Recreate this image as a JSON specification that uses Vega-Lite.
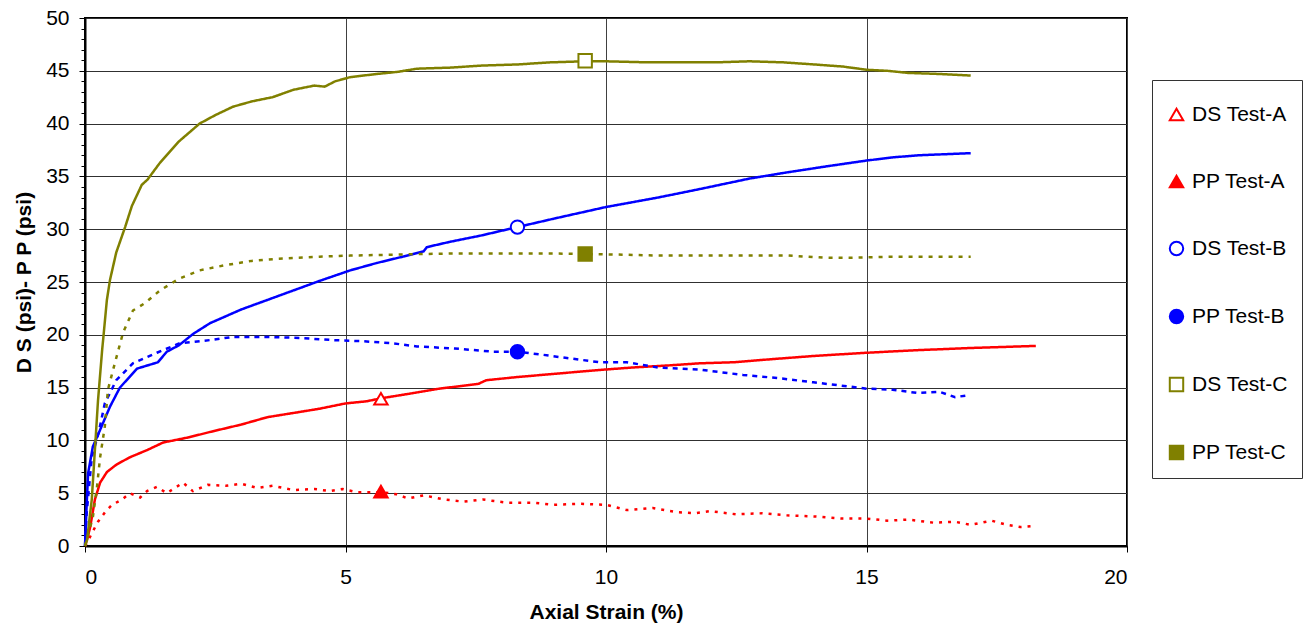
{
  "$schema": "https://vega.github.io/schema/vega-lite/v6.json",
  "width": 1042,
  "height": 528,
  "autosize": {"type": "none"},
  "padding": {"left": 85, "top": 18, "right": 178, "bottom": 81},
  "background": "white",
  "config": {
    "font": "Liberation Sans",
    "view": {"stroke": "black", "strokeWidth": 2}
  },
  "datasets": {
    "lines": [
      {"series":"DS Test-A","strain":0,"dev":0},{"series":"DS Test-A","strain":0.05,"dev":0.8},{"series":"DS Test-A","strain":0.1,"dev":1.8},{"series":"DS Test-A","strain":0.19,"dev":4.4},{"series":"DS Test-A","strain":0.29,"dev":6.0},{"series":"DS Test-A","strain":0.42,"dev":7.0},{"series":"DS Test-A","strain":0.6,"dev":7.7},{"series":"DS Test-A","strain":0.86,"dev":8.4},{"series":"DS Test-A","strain":1.2,"dev":9.1},{"series":"DS Test-A","strain":1.5,"dev":9.8},{"series":"DS Test-A","strain":2.0,"dev":10.3},{"series":"DS Test-A","strain":2.4,"dev":10.8},{"series":"DS Test-A","strain":3.0,"dev":11.5},{"series":"DS Test-A","strain":3.5,"dev":12.2},{"series":"DS Test-A","strain":4.13,"dev":12.7},{"series":"DS Test-A","strain":4.5,"dev":13.0},{"series":"DS Test-A","strain":5.0,"dev":13.5},{"series":"DS Test-A","strain":5.4,"dev":13.7},{"series":"DS Test-A","strain":5.7,"dev":14.0},{"series":"DS Test-A","strain":6.2,"dev":14.4},{"series":"DS Test-A","strain":6.8,"dev":14.9},{"series":"DS Test-A","strain":7.3,"dev":15.2},{"series":"DS Test-A","strain":7.55,"dev":15.35},{"series":"DS Test-A","strain":7.7,"dev":15.7},{"series":"DS Test-A","strain":8.3,"dev":16.0},{"series":"DS Test-A","strain":9.0,"dev":16.3},{"series":"DS Test-A","strain":9.88,"dev":16.67},{"series":"DS Test-A","strain":10.5,"dev":16.9},{"series":"DS Test-A","strain":11.2,"dev":17.1},{"series":"DS Test-A","strain":11.8,"dev":17.3},{"series":"DS Test-A","strain":12.45,"dev":17.4},{"series":"DS Test-A","strain":13.2,"dev":17.7},{"series":"DS Test-A","strain":14.0,"dev":18.0},{"series":"DS Test-A","strain":15.0,"dev":18.3},{"series":"DS Test-A","strain":16.0,"dev":18.55},{"series":"DS Test-A","strain":17.0,"dev":18.75},{"series":"DS Test-A","strain":17.95,"dev":18.9},{"series":"DS Test-A","strain":18.25,"dev":18.95},
      {"series":"PP Test-A","strain":0,"dev":0},{"series":"PP Test-A","strain":0.05,"dev":0.4},{"series":"PP Test-A","strain":0.13,"dev":1.2},{"series":"PP Test-A","strain":0.25,"dev":2.3},{"series":"PP Test-A","strain":0.4,"dev":3.3},{"series":"PP Test-A","strain":0.52,"dev":3.9},{"series":"PP Test-A","strain":0.71,"dev":4.4},{"series":"PP Test-A","strain":0.86,"dev":5.0},{"series":"PP Test-A","strain":1.06,"dev":4.6},{"series":"PP Test-A","strain":1.19,"dev":5.2},{"series":"PP Test-A","strain":1.38,"dev":5.6},{"series":"PP Test-A","strain":1.57,"dev":5.0},{"series":"PP Test-A","strain":1.88,"dev":6.0},{"series":"PP Test-A","strain":2.07,"dev":5.2},{"series":"PP Test-A","strain":2.36,"dev":5.8},{"series":"PP Test-A","strain":2.7,"dev":5.7},{"series":"PP Test-A","strain":3.0,"dev":5.9},{"series":"PP Test-A","strain":3.3,"dev":5.5},{"series":"PP Test-A","strain":3.6,"dev":5.7},{"series":"PP Test-A","strain":4.0,"dev":5.3},{"series":"PP Test-A","strain":4.4,"dev":5.4},{"series":"PP Test-A","strain":4.7,"dev":5.2},{"series":"PP Test-A","strain":4.95,"dev":5.4},{"series":"PP Test-A","strain":5.2,"dev":5.1},{"series":"PP Test-A","strain":5.7,"dev":5.1},{"series":"PP Test-A","strain":5.98,"dev":4.9},{"series":"PP Test-A","strain":6.2,"dev":4.5},{"series":"PP Test-A","strain":6.5,"dev":4.8},{"series":"PP Test-A","strain":6.9,"dev":4.4},{"series":"PP Test-A","strain":7.26,"dev":4.2},{"series":"PP Test-A","strain":7.64,"dev":4.4},{"series":"PP Test-A","strain":8.1,"dev":4.1},{"series":"PP Test-A","strain":8.6,"dev":4.1},{"series":"PP Test-A","strain":9.0,"dev":3.9},{"series":"PP Test-A","strain":9.5,"dev":4.0},{"series":"PP Test-A","strain":10.0,"dev":3.9},{"series":"PP Test-A","strain":10.4,"dev":3.4},{"series":"PP Test-A","strain":10.9,"dev":3.6},{"series":"PP Test-A","strain":11.36,"dev":3.2},{"series":"PP Test-A","strain":11.7,"dev":3.1},{"series":"PP Test-A","strain":12.0,"dev":3.3},{"series":"PP Test-A","strain":12.5,"dev":3.0},{"series":"PP Test-A","strain":13.0,"dev":3.1},{"series":"PP Test-A","strain":13.47,"dev":2.9},{"series":"PP Test-A","strain":14.0,"dev":2.8},{"series":"PP Test-A","strain":14.5,"dev":2.6},{"series":"PP Test-A","strain":15.0,"dev":2.6},{"series":"PP Test-A","strain":15.4,"dev":2.4},{"series":"PP Test-A","strain":15.8,"dev":2.5},{"series":"PP Test-A","strain":16.3,"dev":2.2},{"series":"PP Test-A","strain":16.7,"dev":2.3},{"series":"PP Test-A","strain":17.0,"dev":2.0},{"series":"PP Test-A","strain":17.4,"dev":2.4},{"series":"PP Test-A","strain":17.7,"dev":2.0},{"series":"PP Test-A","strain":17.95,"dev":1.8},{"series":"PP Test-A","strain":18.2,"dev":1.9},
      {"series":"DS Test-B","strain":0,"dev":0},{"series":"DS Test-B","strain":0.03,"dev":3.7},{"series":"DS Test-B","strain":0.06,"dev":6.9},{"series":"DS Test-B","strain":0.15,"dev":9.4},{"series":"DS Test-B","strain":0.29,"dev":11.0},{"series":"DS Test-B","strain":0.48,"dev":13.2},{"series":"DS Test-B","strain":0.67,"dev":15.0},{"series":"DS Test-B","strain":1.0,"dev":16.8},{"series":"DS Test-B","strain":1.4,"dev":17.4},{"series":"DS Test-B","strain":1.57,"dev":18.4},{"series":"DS Test-B","strain":1.8,"dev":19.0},{"series":"DS Test-B","strain":2.08,"dev":20.1},{"series":"DS Test-B","strain":2.4,"dev":21.1},{"series":"DS Test-B","strain":3.0,"dev":22.4},{"series":"DS Test-B","strain":3.5,"dev":23.3},{"series":"DS Test-B","strain":4.0,"dev":24.2},{"series":"DS Test-B","strain":4.5,"dev":25.1},{"series":"DS Test-B","strain":5.09,"dev":26.1},{"series":"DS Test-B","strain":5.6,"dev":26.8},{"series":"DS Test-B","strain":6.1,"dev":27.4},{"series":"DS Test-B","strain":6.5,"dev":27.9},{"series":"DS Test-B","strain":6.56,"dev":28.3},{"series":"DS Test-B","strain":7.0,"dev":28.8},{"series":"DS Test-B","strain":7.6,"dev":29.4},{"series":"DS Test-B","strain":8.3,"dev":30.2},{"series":"DS Test-B","strain":9.0,"dev":31.0},{"series":"DS Test-B","strain":10.0,"dev":32.1},{"series":"DS Test-B","strain":11.0,"dev":33.0},{"series":"DS Test-B","strain":11.8,"dev":33.8},{"series":"DS Test-B","strain":12.76,"dev":34.8},{"series":"DS Test-B","strain":13.5,"dev":35.4},{"series":"DS Test-B","strain":14.3,"dev":36.0},{"series":"DS Test-B","strain":15.0,"dev":36.5},{"series":"DS Test-B","strain":15.5,"dev":36.8},{"series":"DS Test-B","strain":16.0,"dev":37.0},{"series":"DS Test-B","strain":16.5,"dev":37.1},{"series":"DS Test-B","strain":17.0,"dev":37.2},
      {"series":"PP Test-B","strain":0,"dev":0},{"series":"PP Test-B","strain":0.03,"dev":3.0},{"series":"PP Test-B","strain":0.13,"dev":8.4},{"series":"PP Test-B","strain":0.26,"dev":10.7},{"series":"PP Test-B","strain":0.38,"dev":13.5},{"series":"PP Test-B","strain":0.6,"dev":15.7},{"series":"PP Test-B","strain":0.92,"dev":17.3},{"series":"PP Test-B","strain":1.38,"dev":18.3},{"series":"PP Test-B","strain":1.82,"dev":19.2},{"series":"PP Test-B","strain":2.4,"dev":19.5},{"series":"PP Test-B","strain":2.84,"dev":19.8},{"series":"PP Test-B","strain":3.5,"dev":19.8},{"series":"PP Test-B","strain":4.13,"dev":19.7},{"series":"PP Test-B","strain":4.76,"dev":19.5},{"series":"PP Test-B","strain":5.3,"dev":19.4},{"series":"PP Test-B","strain":5.9,"dev":19.2},{"series":"PP Test-B","strain":6.37,"dev":18.9},{"series":"PP Test-B","strain":7.1,"dev":18.7},{"series":"PP Test-B","strain":7.83,"dev":18.4},{"series":"PP Test-B","strain":8.3,"dev":18.4},{"series":"PP Test-B","strain":8.8,"dev":18.1},{"series":"PP Test-B","strain":9.25,"dev":17.8},{"series":"PP Test-B","strain":9.88,"dev":17.4},{"series":"PP Test-B","strain":10.4,"dev":17.4},{"series":"PP Test-B","strain":11.0,"dev":16.9},{"series":"PP Test-B","strain":11.8,"dev":16.7},{"series":"PP Test-B","strain":12.63,"dev":16.2},{"series":"PP Test-B","strain":13.3,"dev":15.9},{"series":"PP Test-B","strain":13.98,"dev":15.5},{"series":"PP Test-B","strain":14.5,"dev":15.2},{"series":"PP Test-B","strain":15.0,"dev":14.9},{"series":"PP Test-B","strain":15.5,"dev":14.8},{"series":"PP Test-B","strain":15.97,"dev":14.5},{"series":"PP Test-B","strain":16.4,"dev":14.6},{"series":"PP Test-B","strain":16.7,"dev":14.1},{"series":"PP Test-B","strain":16.99,"dev":14.3},
      {"series":"DS Test-C","strain":0,"dev":0},{"series":"DS Test-C","strain":0.04,"dev":0.6},{"series":"DS Test-C","strain":0.13,"dev":4.4},{"series":"DS Test-C","strain":0.19,"dev":9.1},{"series":"DS Test-C","strain":0.25,"dev":13.8},{"series":"DS Test-C","strain":0.33,"dev":18.6},{"series":"DS Test-C","strain":0.42,"dev":23.3},{"series":"DS Test-C","strain":0.48,"dev":25.2},{"series":"DS Test-C","strain":0.6,"dev":27.8},{"series":"DS Test-C","strain":0.77,"dev":30.2},{"series":"DS Test-C","strain":0.9,"dev":32.2},{"series":"DS Test-C","strain":1.09,"dev":34.2},{"series":"DS Test-C","strain":1.2,"dev":34.7},{"series":"DS Test-C","strain":1.44,"dev":36.3},{"series":"DS Test-C","strain":1.8,"dev":38.3},{"series":"DS Test-C","strain":2.2,"dev":40.0},{"series":"DS Test-C","strain":2.5,"dev":40.8},{"series":"DS Test-C","strain":2.84,"dev":41.6},{"series":"DS Test-C","strain":3.2,"dev":42.1},{"series":"DS Test-C","strain":3.6,"dev":42.5},{"series":"DS Test-C","strain":4.0,"dev":43.2},{"series":"DS Test-C","strain":4.4,"dev":43.6},{"series":"DS Test-C","strain":4.6,"dev":43.5},{"series":"DS Test-C","strain":4.8,"dev":44.0},{"series":"DS Test-C","strain":5.09,"dev":44.4},{"series":"DS Test-C","strain":5.6,"dev":44.7},{"series":"DS Test-C","strain":6.0,"dev":44.9},{"series":"DS Test-C","strain":6.37,"dev":45.2},{"series":"DS Test-C","strain":7.0,"dev":45.3},{"series":"DS Test-C","strain":7.64,"dev":45.5},{"series":"DS Test-C","strain":8.3,"dev":45.6},{"series":"DS Test-C","strain":8.93,"dev":45.8},{"series":"DS Test-C","strain":9.6,"dev":45.9},{"series":"DS Test-C","strain":10.0,"dev":45.9},{"series":"DS Test-C","strain":10.8,"dev":45.8},{"series":"DS Test-C","strain":11.5,"dev":45.8},{"series":"DS Test-C","strain":12.1,"dev":45.8},{"series":"DS Test-C","strain":12.76,"dev":45.9},{"series":"DS Test-C","strain":13.4,"dev":45.8},{"series":"DS Test-C","strain":14.0,"dev":45.6},{"series":"DS Test-C","strain":14.55,"dev":45.4},{"series":"DS Test-C","strain":15.0,"dev":45.1},{"series":"DS Test-C","strain":15.4,"dev":45.0},{"series":"DS Test-C","strain":15.8,"dev":44.8},{"series":"DS Test-C","strain":16.4,"dev":44.7},{"series":"DS Test-C","strain":17.0,"dev":44.55},
      {"series":"PP Test-C","strain":0,"dev":0},{"series":"PP Test-C","strain":0.15,"dev":2.7},{"series":"PP Test-C","strain":0.23,"dev":5.6},{"series":"PP Test-C","strain":0.29,"dev":8.4},{"series":"PP Test-C","strain":0.38,"dev":11.3},{"series":"PP Test-C","strain":0.44,"dev":14.8},{"series":"PP Test-C","strain":0.54,"dev":16.7},{"series":"PP Test-C","strain":0.73,"dev":20.2},{"series":"PP Test-C","strain":0.92,"dev":22.3},{"series":"PP Test-C","strain":1.15,"dev":23.0},{"series":"PP Test-C","strain":1.44,"dev":24.2},{"series":"PP Test-C","strain":1.8,"dev":25.3},{"series":"PP Test-C","strain":2.2,"dev":26.1},{"series":"PP Test-C","strain":2.7,"dev":26.6},{"series":"PP Test-C","strain":3.2,"dev":27.0},{"series":"PP Test-C","strain":3.7,"dev":27.2},{"series":"PP Test-C","strain":4.5,"dev":27.4},{"series":"PP Test-C","strain":5.09,"dev":27.5},{"series":"PP Test-C","strain":6.0,"dev":27.6},{"series":"PP Test-C","strain":7.0,"dev":27.7},{"series":"PP Test-C","strain":8.0,"dev":27.7},{"series":"PP Test-C","strain":9.0,"dev":27.7},{"series":"PP Test-C","strain":9.56,"dev":27.65},{"series":"PP Test-C","strain":10.2,"dev":27.6},{"series":"PP Test-C","strain":11.0,"dev":27.5},{"series":"PP Test-C","strain":11.8,"dev":27.5},{"series":"PP Test-C","strain":12.7,"dev":27.5},{"series":"PP Test-C","strain":13.5,"dev":27.5},{"series":"PP Test-C","strain":14.2,"dev":27.3},{"series":"PP Test-C","strain":14.7,"dev":27.3},{"series":"PP Test-C","strain":15.5,"dev":27.4},{"series":"PP Test-C","strain":16.2,"dev":27.4},{"series":"PP Test-C","strain":17.0,"dev":27.4}
    ],
    "markers": [
      {"series":"DS Test-A","strain":5.68,"dev":13.95},
      {"series":"PP Test-A","strain":5.68,"dev":5.15},
      {"series":"DS Test-B","strain":8.3,"dev":30.2},
      {"series":"PP Test-B","strain":8.3,"dev":18.4},
      {"series":"DS Test-C","strain":9.6,"dev":45.95},
      {"series":"PP Test-C","strain":9.6,"dev":27.65}
    ]
  },
  "resolve": {"axis": {"x": "independent", "y": "independent"}},
  "layer": [
    {
      "data": {"name": "lines"},
      "mark": {"type": "line", "strokeWidth": 2.5},
      "encoding": {
        "x": {
          "field": "strain", "type": "quantitative",
          "scale": {"domain": [0, 20], "nice": false, "zero": false},
          "axis": {
            "values": [0, 5, 10, 15, 20], "grid": true, "gridColor": "#404040", "gridWidth": 1, "gridOpacity": 1,
            "domainColor": "black", "domainWidth": 2, "tickColor": "black", "tickSize": 6, "tickWidth": 1,
            "labelFontSize": 21, "labelColor": "black", "labelPadding": 14,
            "title": "Axial Strain (%)", "titleFontSize": 21, "titleFontWeight": "bold", "titleColor": "black", "titlePadding": 14
          }
        },
        "y": {
          "field": "dev", "type": "quantitative",
          "scale": {"domain": [0, 50], "nice": false},
          "axis": {
            "values": [0, 5, 10, 15, 20, 25, 30, 35, 40, 45, 50], "grid": true, "gridColor": "#303030", "gridWidth": 1, "gridOpacity": 1,
            "domainColor": "black", "domainWidth": 2, "tickColor": "black", "tickSize": 6, "tickWidth": 1,
            "labelFontSize": 21, "labelColor": "black", "labelPadding": 10,
            "title": "D S (psi)- P P (psi)", "titleFontSize": 21, "titleFontWeight": "bold", "titleColor": "black", "titlePadding": 11
          }
        },
        "color": {
          "field": "series", "type": "nominal",
          "scale": {"range": ["#ff0000", "#0000ff", "#808000", "#ff0000", "#0000ff", "#808000"]},
          "legend": null
        },
        "strokeDash": {
          "field": "series", "type": "nominal",
          "scale": {"range": [[1, 0], [1, 0], [1, 0], [3, 6], [5, 5], [4, 6]]},
          "legend": null
        }
      }
    },
    {
      "data": {"name": "markers"},
      "mark": {"type": "point", "size": 180, "strokeWidth": 2, "opacity": 1},
      "encoding": {
        "x": {"field": "strain", "type": "quantitative", "scale": {"domain": [0, 20], "nice": false, "zero": false}, "axis": null},
        "y": {
          "field": "dev", "type": "quantitative", "scale": {"domain": [0, 50], "nice": false},
          "axis": {
            "orient": "left", "values": [0,1,2,3,4,6,7,8,9,11,12,13,14,16,17,18,19,21,22,23,24,26,27,28,29,31,32,33,34,36,37,38,39,41,42,43,44,46,47,48,49],
            "labels": false, "grid": false, "domain": false, "tickColor": "black", "tickSize": 4, "tickWidth": 1, "title": null
          }
        },
        "stroke": {
          "field": "series", "type": "nominal",
          "scale": {"domain": ["DS Test-A", "PP Test-A", "DS Test-B", "PP Test-B", "DS Test-C", "PP Test-C"], "range": ["#ff0000", "#ff0000", "#0000ff", "#0000ff", "#808000", "#808000"]},
          "legend": {"title": " ", "titleFontSize": 1, "titlePadding": 9, "orient": "none", "legendX": 1067, "legendY": 62, "strokeColor": "#333333", "fillColor": "white", "padding": 14, "symbolSize": 180, "symbolStrokeWidth": 2, "labelFontSize": 21, "labelColor": "black", "labelOffset": 5, "rowPadding": 45, "labelLimit": 200}
        },
        "fill": {
          "field": "series", "type": "nominal",
          "scale": {"domain": ["DS Test-A", "PP Test-A", "DS Test-B", "PP Test-B", "DS Test-C", "PP Test-C"], "range": ["white", "#ff0000", "white", "#0000ff", "white", "#808000"]},
          "legend": {"title": " ", "titleFontSize": 1, "titlePadding": 9, "orient": "none", "legendX": 1067, "legendY": 62, "strokeColor": "#333333", "fillColor": "white", "padding": 14, "symbolSize": 180, "symbolStrokeWidth": 2, "labelFontSize": 21, "labelColor": "black", "labelOffset": 5, "rowPadding": 45, "labelLimit": 200}
        },
        "shape": {
          "field": "series", "type": "nominal",
          "scale": {"domain": ["DS Test-A", "PP Test-A", "DS Test-B", "PP Test-B", "DS Test-C", "PP Test-C"], "range": ["triangle-up", "triangle-up", "circle", "circle", "square", "square"]},
          "legend": {"title": " ", "titleFontSize": 1, "titlePadding": 9, "orient": "none", "legendX": 1067, "legendY": 62, "strokeColor": "#333333", "fillColor": "white", "padding": 14, "symbolSize": 180, "symbolStrokeWidth": 2, "labelFontSize": 21, "labelColor": "black", "labelOffset": 5, "rowPadding": 45, "labelLimit": 200}
        }
      }
    }
  ]
}
